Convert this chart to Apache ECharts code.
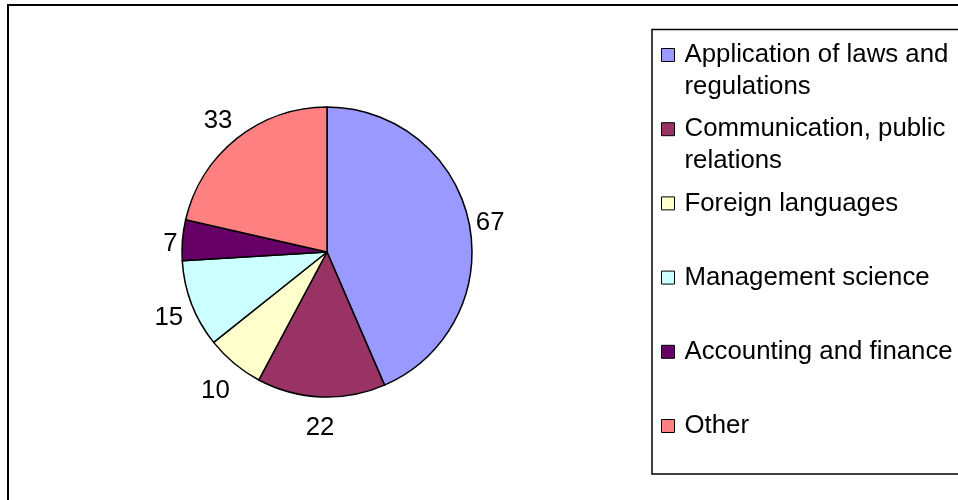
<!DOCTYPE html>
<html>
<head>
<meta charset="utf-8">
<script src="https://cdn.jsdelivr.net/npm/echarts@6/dist/echarts.min.js"></script>
<style>
  html, body { margin: 0; padding: 0; background: #fff; }
  #chart { width: 958px; height: 500px; }
</style>
</head>
<body>
<div id="chart"></div>
<script>
const categories = [
  'Application of laws and regulations',
  'Communication, public relations',
  'Foreign languages',
  'Management science',
  'Accounting and finance',
  'Other'
]
const counts = [67, 22, 10, 15, 7, 33]
const colors = ['#9999FF', '#993366', '#FFFFCC', '#CCFFFF', '#660066', '#FF8080']

const FONT = '"Liberation Sans", Arial, sans-serif'
const FONT_SIZE = 25.8
const LINE = 32
const WRAP = 272
const CX = 327
const CY = 252
const R = 145

const total = counts.reduce((a, b) => a + b, 0)
const before = counts.map((v, i) => counts.slice(0, i).reduce((a, b) => a + b, 0))

// word wrap legend names to the legend width
const ctx = document.createElement('canvas').getContext('2d')
ctx.font = FONT_SIZE + 'px ' + FONT
function wrap(name) {
  const words = name.split(' ')
  const lines = []
  let cur = ''
  words.forEach(w => {
    const next = cur ? cur + ' ' + w : w
    if (cur && ctx.measureText(next).width > WRAP) {
      lines.push(cur)
      cur = w
    } else {
      cur = next
    }
  })
  lines.push(cur)
  // blank first line keeps the icon level with the first text line,
  // and every item gets three lines so the spacing stays even
  if (lines.length < 2) lines.push(' ')
  return '\n' + lines.join('\n')
}

const chart = echarts.init(document.getElementById('chart'))
chart.setOption({
  backgroundColor: '#fff',
  animation: false,
  color: colors,
  graphic: [
    { type: 'rect', shape: { x: 8, y: 5, width: 980, height: 520 }, style: { fill: 'none', stroke: '#000', lineWidth: 2 }, silent: true, z: 0 },
    { type: 'rect', shape: { x: 652, y: 29.5, width: 400, height: 444.5 }, style: { fill: 'none', stroke: '#000', lineWidth: 1.5 }, silent: true, z: 0 }
  ],
  legend: {
    orient: 'vertical',
    left: 661,
    top: 7,
    padding: 0,
    itemGap: 74.2 - 3 * LINE,
    itemWidth: 13,
    itemHeight: 13,
    icon: 'rect',
    itemStyle: { borderColor: '#000', borderWidth: 1 },
    formatter: wrap,
    textStyle: {
      color: '#000',
      fontFamily: FONT,
      fontSize: FONT_SIZE,
      lineHeight: LINE,
      padding: [0, 0, 0, 5],
      backgroundColor: 'rgba(255,255,255,0)'
    },
    data: categories
  },
  series: [{
    type: 'pie',
    center: [CX, CY],
    radius: R,
    startAngle: 90,
    clockwise: true,
    avoidLabelOverlap: false,
    itemStyle: { borderColor: '#000', borderWidth: 1.5 },
    label: {
      show: true,
      position: 'outside',
      formatter: '{c}',
      color: '#000',
      fontFamily: FONT,
      fontSize: FONT_SIZE
    },
    labelLine: { show: false },
    labelLayout: function (p) {
      const i = p.dataIndex
      const mid = (before[i] + counts[i] / 2) / total * Math.PI * 2
      const dx = Math.sin(mid)
      const dy = -Math.cos(mid)
      const ext = Math.abs(dx) * p.labelRect.width / 2 + Math.abs(dy) * p.labelRect.height * 0.87
      const d = R + 3 + ext
      return { x: CX + dx * d, y: CY + dy * d + 5, align: 'center', verticalAlign: 'middle' }
    },
    emphasis: { scale: false },
    data: categories.map((name, i) => ({ name: name, value: counts[i] }))
  }]
})
</script>
</body>
</html>
